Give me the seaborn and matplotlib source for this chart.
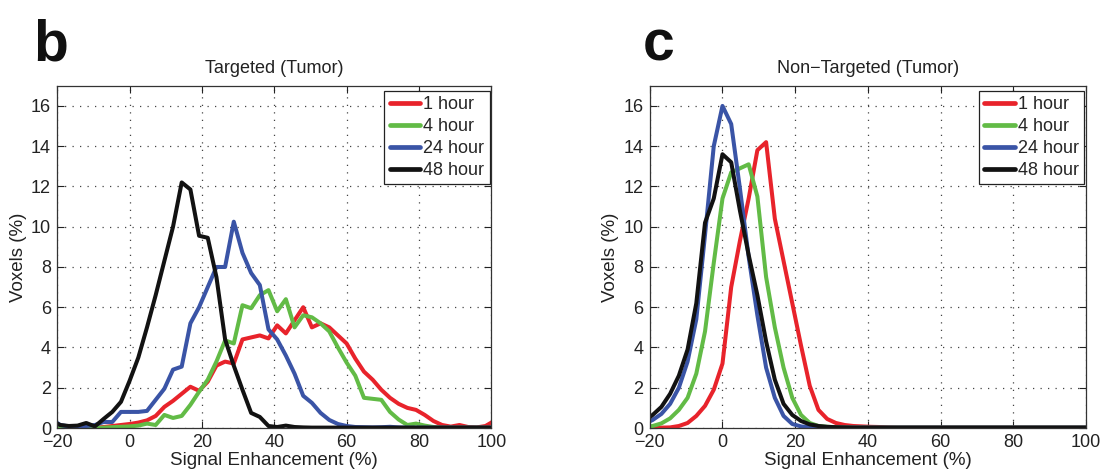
import numpy as np
import pandas as pd
import matplotlib
matplotlib.use("Agg")
import matplotlib.pyplot as plt
import seaborn as sns

# ---------------- data ----------------
bins = [-21.6, -19.2, -16.8, -14.4, -12.0, -9.6, -7.2, -4.8, -2.4, 0.0, 2.4, 4.8, 7.2,
        9.6, 12.0, 14.4, 16.8, 19.2, 21.6, 24.0, 26.4, 28.8, 31.2, 33.6, 36.0, 38.4,
        40.8, 43.2, 45.6, 48.0, 50.4, 52.8, 55.2, 57.6, 60.0, 62.4, 64.8, 67.2, 69.6,
        72.0, 74.4, 76.8, 79.2, 81.6, 84.0, 86.4, 88.8, 91.2, 93.6, 96.0, 98.4, 100.8]

series_names = ["1 hour", "4 hour", "24 hour", "48 hour"]

# Targeted (Tumor)
targeted_1h = [0.02, 0.02, 0.02, 0.02, 0.02, 0.02, 0.05, 0.1, 0.15, 0.2, 0.27, 0.38, 0.6,
               1.05, 1.35, 1.7, 2.05, 1.85, 2.3, 3.1, 3.3, 3.2, 4.4, 4.5, 4.6, 4.45,
               5.1, 4.7, 5.35, 6.0, 5.0, 5.2, 5.0, 4.6, 4.2, 3.45, 2.8, 2.4, 1.9,
               1.5, 1.2, 1.0, 0.9, 0.65, 0.35, 0.15, 0.07, 0.15, 0.05, 0.03, 0.1, 0.35]
targeted_4h = [0.01, 0.01, 0.01, 0.01, 0.01, 0.01, 0.02, 0.04, 0.06, 0.08, 0.12, 0.22, 0.15,
               0.65, 0.5, 0.6, 1.15, 1.8, 2.4, 3.3, 4.35, 4.2, 6.1, 5.95, 6.6, 6.85,
               5.8, 6.4, 5.0, 5.6, 5.5, 5.2, 4.8, 4.0, 3.25, 2.6, 1.5, 1.45, 1.4,
               0.8, 0.42, 0.15, 0.22, 0.12, 0.05, 0.02, 0.02, 0.02, 0.02, 0.02, 0.02, 0.02]
targeted_24h = [0.45, 0.15, 0.08, 0.08, 0.1, 0.15, 0.3, 0.3, 0.8, 0.8, 0.8, 0.85, 1.4,
                1.95, 2.9, 3.05, 5.2, 6.0, 7.0, 8.0, 8.0, 10.25, 8.7, 7.7, 7.1, 4.9,
                4.4, 3.6, 2.7, 1.6, 1.25, 0.75, 0.4, 0.2, 0.1, 0.05, 0.04, 0.03, 0.04,
                0.06, 0.03, 0.02, 0.02, 0.02, 0.02, 0.02, 0.02, 0.02, 0.02, 0.02, 0.02, 0.02]
targeted_48h = [0.35, 0.15, 0.1, 0.12, 0.25, 0.08, 0.45, 0.8, 1.3, 2.35, 3.5, 5.0, 6.6,
                8.3, 10.0, 12.2, 11.85, 9.55, 9.45, 7.5, 4.4, 3.1, 1.9, 0.75, 0.55, 0.1,
                0.05, 0.12, 0.05, 0.03, 0.02, 0.02, 0.02, 0.02, 0.02, 0.02, 0.02, 0.02, 0.02,
                0.02, 0.02, 0.02, 0.02, 0.02, 0.02, 0.02, 0.02, 0.02, 0.02, 0.02, 0.02, 0.02]

# Non-Targeted (Tumor)
nontargeted_1h = [0.0, 0.0, 0.02, 0.03, 0.1, 0.25, 0.6, 1.1, 1.9, 3.2, 7.0, 9.3, 11.4,
                  13.8, 14.2, 10.4, 8.3, 6.2, 4.1, 2.1, 0.9, 0.45, 0.25, 0.15, 0.1, 0.08,
                  0.06, 0.05, 0.03, 0.02, 0.02, 0.02, 0.02, 0.02, 0.02, 0.02, 0.02, 0.02, 0.02,
                  0.02, 0.02, 0.02, 0.02, 0.02, 0.02, 0.02, 0.02, 0.02, 0.02, 0.02, 0.02, 0.02]
nontargeted_4h = [0.05, 0.1, 0.23, 0.48, 0.9, 1.5, 2.7, 4.8, 8.2, 11.4, 12.7, 12.9, 13.1,
                  11.5, 7.5, 5.0, 3.0, 1.5, 0.65, 0.25, 0.1, 0.06, 0.04, 0.03, 0.02, 0.02,
                  0.02, 0.02, 0.02, 0.02, 0.02, 0.02, 0.02, 0.02, 0.02, 0.02, 0.02, 0.02, 0.02,
                  0.02, 0.02, 0.02, 0.02, 0.02, 0.02, 0.02, 0.02, 0.02, 0.02, 0.02, 0.02, 0.02]
nontargeted_24h = [0.2, 0.4, 0.7, 1.2, 2.0, 3.3, 5.4, 9.6, 14.0, 16.0, 15.1, 11.9, 8.5,
                   5.6, 3.0, 1.5, 0.6, 0.2, 0.08, 0.04, 0.02, 0.02, 0.02, 0.02, 0.02, 0.02,
                   0.02, 0.02, 0.02, 0.02, 0.02, 0.02, 0.02, 0.02, 0.02, 0.02, 0.02, 0.02, 0.02,
                   0.02, 0.02, 0.02, 0.02, 0.02, 0.02, 0.02, 0.02, 0.02, 0.02, 0.02, 0.02, 0.02]
nontargeted_48h = [0.3, 0.65, 1.05, 1.7, 2.6, 3.9, 6.2, 10.2, 11.4, 13.6, 13.2, 10.8, 8.6,
                   6.6, 4.3, 2.4, 1.2, 0.65, 0.35, 0.18, 0.1, 0.06, 0.04, 0.03, 0.02, 0.02,
                   0.02, 0.02, 0.02, 0.02, 0.02, 0.02, 0.02, 0.02, 0.02, 0.02, 0.02, 0.02, 0.02,
                   0.02, 0.02, 0.02, 0.02, 0.02, 0.02, 0.02, 0.02, 0.02, 0.02, 0.02, 0.02, 0.02]

x_ticks = [-20, 0, 20, 40, 60, 80, 100]
y_ticks = [0, 2, 4, 6, 8, 10, 12, 14, 16]

palette = {"1 hour": "#e8232b", "4 hour": "#62bb46", "24 hour": "#3a54a6", "48 hour": "#121212"}

# ---------------- style ----------------
sns.set_style("ticks")
plt.rcParams['font.family'] = ['Liberation Sans', 'DejaVu Sans']
plt.rcParams['axes.unicode_minus'] = True


def long_frame(values_list):
    rows = []
    for name, vals in zip(series_names, values_list):
        for xv, yv in zip(bins, vals):
            rows.append({"x": xv, "y": yv, "series": name})
    return pd.DataFrame(rows)


def draw(ax, values_list, title):
    df = long_frame(values_list)
    sns.lineplot(data=df, x="x", y="y", hue="series", hue_order=series_names,
                 palette=palette, sort=False, estimator=None, linewidth=2.9, ax=ax)
    ax.set_xlim(-20, 100)
    ax.set_ylim(0, 17)
    ax.set_xticks(x_ticks)
    ax.set_yticks(y_ticks)
    ax.set_axisbelow(True)
    ax.grid(True, linestyle=(0, (1, 5)), color='#444444', linewidth=0.9)
    ax.tick_params(direction='in', top=True, right=True, length=5, width=0.8,
                   labelsize=13, pad=4.5, colors='#222222')
    for s in ax.spines.values():
        s.set_visible(True)
        s.set_color('#333333')
        s.set_linewidth(0.9)
    ax.set_title(title, fontsize=13, pad=9, color='#222222')
    ax.set_xlabel("Signal Enhancement (%)", fontsize=13.5, labelpad=0.5, color='#222222')
    ax.set_ylabel("Voxels (%)", fontsize=13.5, labelpad=3, color='#222222')
    handles, labels = ax.get_legend_handles_labels()
    leg = ax.legend(handles, labels, loc='upper right', bbox_to_anchor=(0.996, 0.985),
                    frameon=True, fancybox=False, edgecolor='#222222', facecolor='white',
                    framealpha=1, fontsize=13, handlelength=1.7, handletextpad=0.15,
                    borderpad=0.3, labelspacing=0.27, borderaxespad=0)
    leg.get_frame().set_linewidth(0.9)
    for ln in leg.get_lines():
        ln.set_linewidth(3.4)


fig = plt.figure(figsize=(11, 4.73), dpi=100)
ax1 = fig.add_axes([0.0521, 0.0951, 0.3945, 0.7235])
ax2 = fig.add_axes([0.5907, 0.0951, 0.3966, 0.7235])

draw(ax1, [targeted_1h, targeted_4h, targeted_24h, targeted_48h], "Targeted (Tumor)")
draw(ax2, [nontargeted_1h, nontargeted_4h, nontargeted_24h, nontargeted_48h],
     "Non\u2212Targeted (Tumor)")

fig.text(0.030, 0.873, "b", fontsize=41, fontweight='bold', ha='left', va='baseline', color='#111111')
fig.text(0.584, 0.873, "c", fontsize=41, fontweight='bold', ha='left', va='baseline', color='#111111')

fig.savefig("out.png", dpi=100, facecolor='white')
